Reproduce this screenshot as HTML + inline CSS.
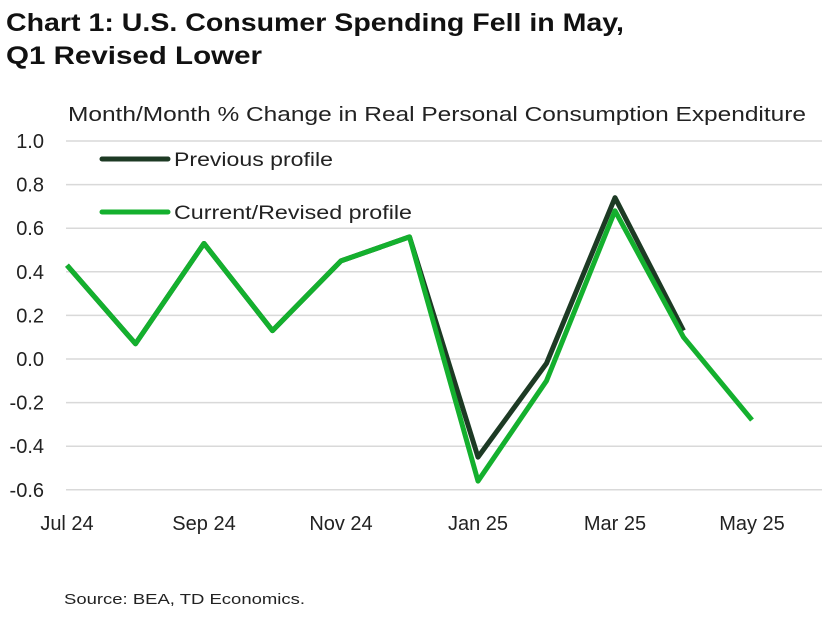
<!DOCTYPE html>
<html><head><meta charset="utf-8"><style>
body{margin:0;background:#fff;width:827px;height:617px;overflow:hidden;font-family:"Liberation Sans",sans-serif}
</style></head><body>
<svg width="827" height="617" xmlns="http://www.w3.org/2000/svg">
<text x="6" y="31" font-size="25" font-weight="bold" fill="#111" textLength="618" lengthAdjust="spacingAndGlyphs">Chart 1: U.S. Consumer Spending Fell in May,</text>
<text x="6" y="64" font-size="25" font-weight="bold" fill="#111" textLength="256" lengthAdjust="spacingAndGlyphs">Q1 Revised Lower</text>
<text x="68" y="121" font-size="20" fill="#222" textLength="738" lengthAdjust="spacingAndGlyphs">Month/Month % Change in Real Personal Consumption Expenditure</text>
<g id="grid"></g><g id="yt"></g><g id="xt"></g><g id="lines"></g>
<line x1="102" y1="159" x2="168" y2="159" stroke="#1d3a24" stroke-width="5" stroke-linecap="round"/>
<text x="174" y="166" font-size="19" fill="#222" textLength="159" lengthAdjust="spacingAndGlyphs">Previous profile</text>
<line x1="102" y1="212" x2="168" y2="212" stroke="#14b02e" stroke-width="5" stroke-linecap="round"/>
<text x="174" y="219" font-size="19" fill="#222" textLength="238" lengthAdjust="spacingAndGlyphs">Current/Revised profile</text>
<text x="64" y="604" font-size="15" fill="#222" textLength="241" lengthAdjust="spacingAndGlyphs">Source: BEA, TD Economics.</text>
</svg>
<script>
const months=["Jul 24","Aug 24","Sep 24","Oct 24","Nov 24","Dec 24","Jan 25","Feb 25","Mar 25","Apr 25","May 25"];
const xLabels=["Jul 24","Sep 24","Nov 24","Jan 25","Mar 25","May 25"];
const yTicks=[1.0,0.8,0.6,0.4,0.2,0.0,-0.2,-0.4,-0.6];
const current=[0.43,0.07,0.53,0.13,0.45,0.56,-0.56,-0.10,0.68,0.10,-0.28];
const previous=[0.43,0.07,0.53,0.13,0.45,0.56,-0.45,-0.02,0.74,0.13];
const NS="http://www.w3.org/2000/svg";
const x=i=>67+i*68.5;
const y=v=>359-v*218;
function mk(t,a,p){const e=document.createElementNS(NS,t);for(const k in a)e.setAttribute(k,a[k]);document.getElementById(p).appendChild(e);return e;}
yTicks.forEach(v=>{
 const g=mk('line',{x1:66,x2:822,y1:y(v),y2:y(v),stroke:'#d9d9d9','stroke-width':1.5},'grid');
 
 
 const t=mk('text',{x:44,y:y(v)+7,'font-size':20,fill:'#222','text-anchor':'end'},'yt');
 t.textContent=v.toFixed(1);
 
 
});
xLabels.forEach(l=>{
 const i=months.indexOf(l);
 const t=mk('text',{x:x(i),y:530,'font-size':20,fill:'#222','text-anchor':'middle'},'xt');
 t.textContent=l;
 
 
});
const pp=mk('polyline',{points:previous.map((v,i)=>x(i)+','+y(v)).join(' '),fill:'none',stroke:'#1d3a24','stroke-width':5,'stroke-linejoin':'round'},'lines');


const cp=mk('polyline',{points:current.map((v,i)=>x(i)+','+y(v)).join(' '),fill:'none',stroke:'#14b02e','stroke-width':5,'stroke-linejoin':'round'},'lines');


</script>
</body></html>
